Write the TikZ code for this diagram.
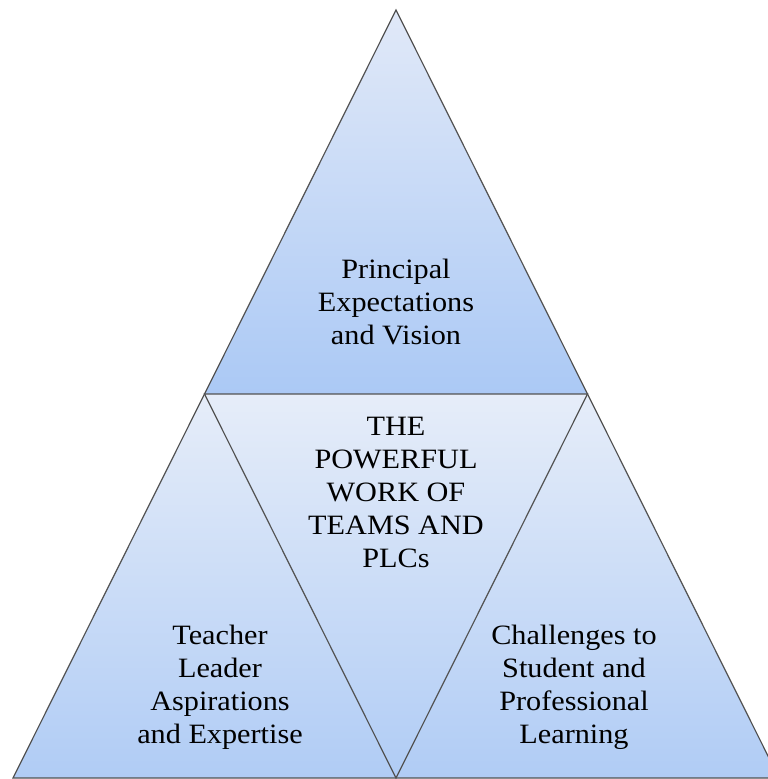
\documentclass[tikz,border=0pt]{standalone}
\usepackage{fontspec}
\setmainfont{Liberation Serif}[FakeStretch=1.08]
\begin{document}
\begin{tikzpicture}[x=1pt,y=-1pt,
  edge/.style={draw=black!68,line width=1.2pt,line join=miter},
  upper/.style={top color=topA,bottom color=botA},
  lower/.style={top color=topB,bottom color=botB},
  label/.style={align=center,font=\fontsize{28}{33}\selectfont,text=black,inner sep=0pt}]
\definecolor{topA}{HTML}{E1E9F8}
\definecolor{botA}{HTML}{ABC9F5}
\definecolor{topB}{HTML}{E6EDF9}
\definecolor{botB}{HTML}{B0CCF5}
\useasboundingbox (0,0) rectangle (768,779);
\clip (0,0) rectangle (768,779);
% corner points of the pyramid
\coordinate (apex) at (396,10);
\coordinate (ml) at (204.5,394);
\coordinate (mr) at (587.5,394);
\coordinate (bl) at (13,778);
\coordinate (bm) at (396,778);
\coordinate (br) at (779,778);
% four triangles, each with its own vertical gradient
\shade[upper] (apex) -- (ml) -- (mr) -- cycle;
\shade[lower] (ml) -- (mr) -- (bm) -- cycle;
\shade[lower] (ml) -- (bl) -- (bm) -- cycle;
\shade[lower] (mr) -- (bm) -- (br) -- cycle;
% outlines
\draw[edge] (apex) -- (bl) -- (br) -- cycle;
\draw[edge] (ml) -- (mr) -- (bm) -- cycle;
% labels
\node[label] (top) at (396,302) {Principal\\Expectations\\and Vision};
\node[label] (mid) at (396,492) {THE\\POWERFUL\\WORK OF\\TEAMS AND\\PLCs};
\node[label] (left) at (220,687) {Teacher\\Leader\\Aspirations\\and Expertise};
\node[label] (right) at (574,687) {Challenges to\\Student and\\Professional\\Learning};
\end{tikzpicture}
\end{document}
